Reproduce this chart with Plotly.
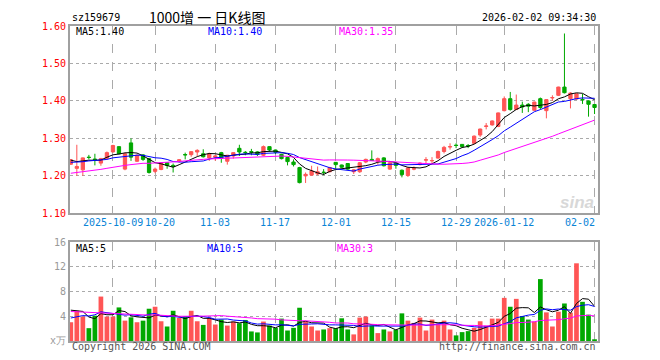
import plotly.graph_objects as go

# ---------------- data ----------------
prior_close = [1.17, 1.18, 1.175, 1.19, 1.185, 1.178, 1.188, 1.195, 1.18, 1.189,
               1.195, 1.20, 1.21, 1.198, 1.205, 1.19, 1.20, 1.212, 1.205, 1.205,
               1.22, 1.235, 1.228, 1.232, 1.235,
               1.245, 1.238, 1.24, 1.244]

opens = [1.231, 1.220, 1.216, 1.250, 1.245, 1.234, 1.247, 1.264, 1.278, 1.218,
         1.288, 1.239, 1.256, 1.246, 1.212, 1.217, 1.235, 1.228, 1.239, 1.257,
         1.2566, 1.2637, 1.259, 1.248, 1.250, 1.262, 1.239, 1.253, 1.2735, 1.263,
         1.265, 1.264, 1.255, 1.278, 1.269, 1.2575, 1.249, 1.237, 1.222, 1.200,
         1.202, 1.205, 1.210, 1.211, 1.236, 1.229, 1.233, 1.211, 1.211, 1.237,
         1.244, 1.239, 1.248, 1.218, 1.234, 1.215, 1.201, 1.218, 1.230, 1.242,
         1.240, 1.2474, 1.265, 1.277, 1.282, 1.284, 1.281, 1.287, 1.309, 1.332,
         1.336, 1.332, 1.374, 1.406, 1.377, 1.389, 1.391, 1.375, 1.406, 1.374,
         1.408, 1.415, 1.437, 1.406, 1.405, 1.404, 1.400, 1.3904]
highs = [1.245, 1.283, 1.249, 1.256, 1.259, 1.248, 1.265, 1.283, 1.279, 1.262,
         1.300, 1.257, 1.258, 1.248, 1.222, 1.237, 1.236, 1.233, 1.245, 1.262,
         1.266, 1.271, 1.271, 1.262, 1.255, 1.264, 1.256, 1.263, 1.283, 1.266,
         1.272, 1.266, 1.281, 1.279, 1.270, 1.259, 1.251, 1.244, 1.224, 1.209,
         1.227, 1.225, 1.218, 1.224, 1.237, 1.230, 1.234, 1.218, 1.237, 1.246,
         1.268, 1.249, 1.250, 1.237, 1.236, 1.217, 1.223, 1.225, 1.236, 1.250,
         1.250, 1.2675, 1.280, 1.287, 1.287, 1.285, 1.285, 1.308, 1.326, 1.341,
         1.348, 1.369, 1.412, 1.424, 1.417, 1.398, 1.394, 1.398, 1.409, 1.405,
         1.415, 1.438, 1.580, 1.423, 1.420, 1.419, 1.401, 1.391]
lows = [1.229, 1.200, 1.200, 1.244, 1.228, 1.227, 1.245, 1.262, 1.258, 1.215,
        1.240, 1.237, 1.240, 1.206, 1.207, 1.215, 1.219, 1.209, 1.235, 1.244,
        1.251, 1.253, 1.249, 1.240, 1.240, 1.235, 1.230, 1.246, 1.253, 1.255,
        1.255, 1.253, 1.253, 1.266, 1.258, 1.244, 1.228, 1.225, 1.180, 1.181,
        1.200, 1.202, 1.202, 1.209, 1.218, 1.221, 1.216, 1.205, 1.208, 1.234,
        1.240, 1.230, 1.225, 1.216, 1.219, 1.196, 1.197, 1.215, 1.228, 1.234,
        1.234, 1.246, 1.260, 1.270, 1.274, 1.276, 1.274, 1.285, 1.304, 1.324,
        1.334, 1.330, 1.372, 1.374, 1.376, 1.368, 1.370, 1.374, 1.377, 1.3535,
        1.400, 1.413, 1.420, 1.380, 1.403, 1.392, 1.358, 1.365]
closes = [1.243, 1.225, 1.248, 1.249, 1.243, 1.246, 1.262, 1.281, 1.259, 1.259,
          1.250, 1.255, 1.244, 1.209, 1.218, 1.235, 1.228, 1.225, 1.243, 1.256,
          1.2646, 1.268, 1.251, 1.259, 1.253, 1.247, 1.255, 1.262, 1.2637, 1.262,
          1.263, 1.257, 1.278, 1.269, 1.263, 1.246, 1.238, 1.230, 1.182, 1.204,
          1.213, 1.211, 1.209, 1.222, 1.230, 1.223, 1.218, 1.216, 1.235, 1.244,
          1.241, 1.246, 1.227, 1.235, 1.228, 1.2035, 1.221, 1.219, 1.234, 1.243,
          1.241, 1.265, 1.276, 1.278, 1.281, 1.278, 1.280, 1.306, 1.325, 1.333,
          1.3465, 1.368, 1.406, 1.377, 1.389, 1.384, 1.386, 1.397, 1.3825, 1.4035,
          1.409, 1.437, 1.422, 1.421, 1.419, 1.403, 1.391, 1.3825]

prior_volume = [6.2, 5.1, 4.8, 7.5, 5.9, 4.2, 5.6, 6.8, 4.4, 5.0,
                5.3, 4.9, 6.1, 4.6, 5.5, 5.8, 4.3, 5.2, 4.7, 4.2,
                2.8, 2.2, 2.6, 2.3, 2.4,
                5.4, 4.5, 6.6, 5.46]
volume = [3.04, 4.9, 3.95, 2.08, 4.1, 7.2, 3.95, 3.95, 5.44, 3.3,
          3.84, 3.04, 3.3, 5.23, 5.55, 3.2, 2.35, 4.9, 3.73, 3.95,
          4.9, 3.2, 2.61, 3.73, 2.67, 3.47, 2.5, 3.15, 2.88, 3.41,
          1.55, 1.39, 3.15, 2.5, 2.13, 3.63, 1.7, 2.13, 5.39, 3.2,
          2.35, 1.7, 1.87, 2.08, 2.08, 3.68, 1.87, 1.07, 3.79, 3.95,
          2.5, 1.28, 1.87, 1.55, 1.81, 4.48, 3.3, 2.93, 3.79, 1.7,
          3.47, 2.83, 3.3, 1.87, 0.91, 1.44, 1.6, 2.13, 3.2, 2.5,
          3.63, 3.63, 6.99, 5.55, 6.83, 4.05, 3.47, 3.15, 10.03, 4.64,
          2.35, 4.75, 6.08, 4.59, 12.59, 6.35, 4.27, 0.27]

date_labels = ["2025-10-09", "10-20", "11-03", "11-17", "12-01", "12-15",
               "12-29", "2026-01-12", "02-02"]
date_index = [7, 14, 24, 34, 44, 54, 64, 72, 87]

price_ticks = [1.10, 1.20, 1.30, 1.40, 1.50, 1.60]
vol_ticks = [0, 4, 8, 12, 16]
vol_tick_text = ["x万", "4", "8", "12", "16"]

# ---------------- helpers ----------------
def moving_avg(series, n, start):
    return [sum(series[i - n + 1:i + 1]) / n for i in range(start, len(series))]

P = len(prior_close)
full_close = prior_close + closes
ma5 = moving_avg(full_close, 5, P)
ma10 = moving_avg(full_close, 10, P)
ma30 = moving_avg(full_close, 30, P)

PV = len(prior_volume)
full_vol = prior_volume + volume
vma5 = moving_avg(full_vol, 5, PV)
vma10 = moving_avg(full_vol, 10, PV)
vma30 = moving_avg(full_vol, 30, PV)

x = list(range(len(closes)))
RED = "#FF5555"
GREEN = "#00A800"
vol_colors = [RED if c >= o else GREEN for o, c in zip(opens, closes)]

MONO = "DejaVu Sans Mono"
OFF = 8  # page body margin of the browser
PAGE_W, PAGE_H = 660, 360
W, H = PAGE_W - OFF, PAGE_H - OFF
# plot area edges in page pixels
L, R, T, B = 70, 598, 21, 341


def px(xp):
    return (xp - L) / (R - L)


def py(yp):
    return (B - yp) / (B - T)


fig = go.Figure()
fig.add_trace(go.Candlestick(
    x=x, open=opens, high=highs, low=lows, close=closes,
    increasing=dict(line=dict(color=RED, width=1), fillcolor=RED),
    decreasing=dict(line=dict(color=GREEN, width=1), fillcolor=GREEN),
    whiskerwidth=0, xaxis="x", yaxis="y", showlegend=False, hoverinfo="skip"))
for vals, col in [(ma5, "#000000"), (ma10, "#0000FF"), (ma30, "#FF00FF")]:
    fig.add_trace(go.Scatter(x=x, y=vals, mode="lines", line=dict(color=col, width=1),
                             xaxis="x", yaxis="y", showlegend=False, hoverinfo="skip"))

fig.add_trace(go.Bar(x=x, y=volume, marker=dict(color=vol_colors, line=dict(width=0)),
                     width=0.78, xaxis="x2", yaxis="y2", showlegend=False, hoverinfo="skip"))
for vals, col in [(vma5, "#000000"), (vma10, "#0000FF"), (vma30, "#FF00FF")]:
    fig.add_trace(go.Scatter(x=x, y=vals, mode="lines", line=dict(color=col, width=1),
                             xaxis="x2", yaxis="y2", showlegend=False, hoverinfo="skip"))

xr = [(L - 70.8) / 6.02, (R - 70.8) / 6.02]
FRAME = "#A0A0A0"
GRID = "#AAAAAA"
xcommon = dict(range=xr, tickvals=date_index, showticklabels=False, showgrid=True,
               gridcolor=GRID, griddash="dash", gridwidth=1, zeroline=False,
               showline=True, linecolor=FRAME, linewidth=2, mirror=True, ticks="",
               fixedrange=True)

price_bottom = py(211.3)
vol_top = py(240.7)

fig.update_layout(
    width=W, height=H,
    margin=dict(l=L - OFF, r=W - (R - OFF), t=T - OFF, b=H - (B - OFF), pad=0),
    paper_bgcolor="white", plot_bgcolor="white",
    boxgap=0.22, bargap=0.2,
    font=dict(family=MONO, size=10, color="#000"),
    xaxis=dict(**xcommon, anchor="y", domain=[0, 1], rangeslider=dict(visible=False)),
    xaxis2=dict(**xcommon, anchor="y2", domain=[0, 1], matches="x"),
    yaxis=dict(domain=[price_bottom, 1], range=[1.10, 1.60], tickvals=price_ticks,
               ticktext=[f"{v:.2f}" for v in price_ticks],
               tickfont=dict(family=MONO, size=10, color="#FF0000"),
               showgrid=True, gridcolor=GRID, griddash="dot", gridwidth=1,
               zeroline=False, showline=True, linecolor=FRAME, linewidth=2, mirror=True,
               ticks="", fixedrange=True),
    yaxis2=dict(domain=[0, vol_top], range=[0, 16], tickvals=vol_ticks, ticktext=vol_tick_text,
                tickfont=dict(family=MONO, size=10, color="#999999"),
                showgrid=True, gridcolor=GRID, griddash="dot", gridwidth=1,
                zeroline=False, showline=True, linecolor=FRAME, linewidth=2, mirror=True,
                ticks="", fixedrange=True),
)

ann = []


def text(t, xp, yp, anchor="left", color="#000", size=10, family=MONO, **kw):
    ann.append(dict(text=t, x=px(xp), y=py(yp), xref="paper", yref="paper",
                    xanchor=anchor, yanchor="middle", showarrow=False,
                    font=dict(family=family, size=size, color=color), **kw))


text("sz159679", 70, 12)
text("1000增 一 日K线图", 207, 12, anchor="center", size=14,
     family="Noto Sans CJK SC")
text("2026-02-02 09:34:30", 598, 12, anchor="right")
text("MA5:1.40", 74, 27)
text("MA10:1.40", 206, 27, color="#0000FF")
text("MA30:1.35", 337, 27, color="#FF00FF")
text("MA5:5", 74, 247)
text("MA10:5", 205, 247, color="#0000FF")
text("MA30:3", 335, 247, color="#FF00FF")
text("Copyright 2026 SINA.COM", 70, 347, color="#555555")
text("http://finance.sina.com.cn", 598, 347, anchor="right", color="#555555")
text("<b><i>sina</i></b>", 596, 200, anchor="right", color="#D8D8D8", size=17,
     family="Liberation Sans")

for k, (lab, idx) in enumerate(zip(date_labels, date_index)):
    if k == len(date_index) - 1:
        xa, xv = "right", idx + 0.45
    elif k == 1:
        xa, xv = "left", idx - 2.0
    else:
        xa, xv = "center", idx
    ann.append(dict(text=lab, x=xv, y=py(221), xref="x", yref="paper",
                    xanchor=xa, yanchor="middle",
                    showarrow=False, font=dict(family=MONO, size=10, color="#0A84D6")))

fig.update_layout(annotations=ann)
fig.write_html("out.html")
